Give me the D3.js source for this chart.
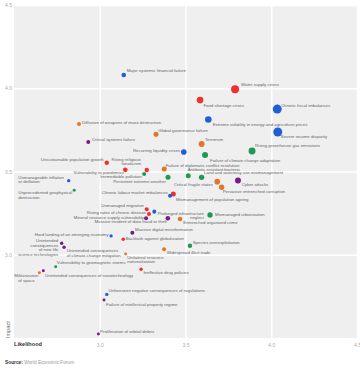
<!DOCTYPE html>
<html><head><meta charset="utf-8">
<script src="https://cdn.jsdelivr.net/npm/d3@7"></script>
<style>html,body{margin:0;padding:0;background:#fff;} svg{display:block;font-family:"Liberation Sans",Arial,sans-serif;}</style>
</head><body><svg id="chart" width="360" height="375"></svg>
<script>
const categories = ["Economic","Environmental","Geopolitical","Societal","Technological"];
const categoryColors = ["#1f60d4","#1f9a55","#e0762a","#f22e2e","#7a1a8a"];

const risks = [
"Major systemic financial failure","Water supply crises","Food shortage crises","Chronic fiscal imbalances",
"Extreme volatility in energy and agriculture prices","Severe income disparity","Rising greenhouse gas emissions",
"Global governance failure","Terrorism","Recurring liquidity crises","Failure of climate change adaptation",
"Diffusion of weapons of mass destruction","Critical systems failure","Unsustainable population growth",
"Unmanageable inflation or deflation","Unprecedented geophysical destruction","Rising religious fanaticism",
"Vulnerability to pandemics","Irremediable pollution","Persistent extreme weather",
"Failure of diplomatic conflict resolution","Antibiotic-resistant bacteria","Land and waterway use mismanagement",
"Critical fragile states","Cyber attacks","Pervasive entrenched corruption","Mismanagement of population ageing",
"Chronic labour market imbalances","Unmanaged migration","Rising rates of chronic disease",
"Prolonged infrastructure neglect","Mineral resource supply vulnerability","Massive incident of data fraud or theft",
"Entrenched organized crime","Mismanaged urbanization","Massive digital misinformation",
"Backlash against globalization","Species overexploitation","Widespread illicit trade",
"Unilateral resource nationalization","Ineffective drug policies","Hard landing of an emerging economy",
"Unintended consequences of new life science technologies","Unintended consequences of climate change mitigation",
"Vulnerability to geomagnetic storms","Militarization of space","Unintended consequences of nanotechnology",
"Unforeseen negative consequences of regulations","Failure of intellectual property regime","Proliferation of orbital debris"
];
// index into categories
const riskCategory = [0,3,3,0,0,0,1,2,2,0,1,2,4,3,0,1,3,3,1,1,2,1,1,2,4,2,3,0,3,3,0,4,4,2,1,4,3,1,2,2,3,0,4,4,1,2,4,0,4,4];
const likelihood = [3.140,3.789,3.585,4.035,3.633,4.038,3.888,3.328,3.594,3.490,3.614,2.879,2.933,3.041,2.819,2.851,3.274,3.149,3.259,3.398,
3.376,3.516,3.594,3.685,3.806,3.711,3.429,3.410,3.274,3.287,3.318,3.270,3.397,3.468,3.643,3.190,3.137,3.526,3.375,3.151,
3.241,3.066,2.778,2.792,2.743,2.648,2.671,3.041,3.025,2.992];
const impact = [4.080,3.994,3.929,3.875,3.812,3.737,3.623,3.723,3.665,3.617,3.599,3.785,3.677,3.553,3.445,3.387,3.509,3.510,3.485,3.465,
3.515,3.474,3.465,3.439,3.446,3.405,3.365,3.355,3.273,3.245,3.259,3.219,3.219,3.215,3.239,3.132,3.093,3.054,3.033,3.005,
2.913,3.113,3.069,3.045,2.928,2.892,2.904,2.762,2.728,2.524];
const weight = [2.6,7.9,5.4,10,5.4,10,6.0,3.1,4.4,3.9,4.4,2.0,2.0,2.4,1.4,1.1,2.4,2.6,2.0,3.1,
3.1,3.1,3.6,3.9,4.4,3.6,3.1,2.0,2.0,2.0,2.0,2.0,2.6,2.6,3.6,2.0,1.6,2.4,2.0,1.1,
1.4,1.4,1.4,1.4,1.1,1.1,1.1,1.4,1.1,1.1];
const xTickValues = [3.0,3.5,4.0,4.5];
const yTickValues = [3.0,3.5,4.0,4.5];

// label layout: [anchor, dx, dy, words per line]
const labelLayout = [
["s",3,-4],["s",6,-5],["s",3.3,5],["s",3.7,-4],["s",4.4,4.5],["s",3,4],["s",3,-5.3],["s",2.3,-3.6],["s",3.3,-4.7],["e",-3.8,-2],
["s",5,5],["s",3,-2],["s",3.4,-3],["e",-3,-3],["s",-50.4,-3.4,[2,2]],["s",-55.9,2.4,[2,1]],["e",-5.7,-11,[2,1]],["e",-1.3,2.9],["e",-2.5,2.7],["e",-2,4.4],
["s",1.5,-4],["s",-0.6,-6.8],["s",2.3,-4.6],["e",-4.3,3.3],["s",3.7,4],["s",1,3.7],["s",2.7,5],["e",-2.3,-3.4],["e",-2.7,-3.6],["e",-3,-1.7],
["e",49.7,1.6,[2,1]],["e",-2,-1],["e",-1,3.4],["s",3.3,3.7],["s",5,0],["s",2.7,-3.4],["s",2.4,-0.3],["s",2.7,-3],["s",2.7,3.4],["s",1.6,3.3,[2,1]],
["s",2.3,3.4],["e",-2.7,-1.7],["e",-3.4,-2.6,[1,1,3,2]],["s",2.7,3.7,[2,4]],["s",1,-4.4],["m",-13,3,[1,2]],["s",1.7,4.3],["s",1.6,-3.5],["s",2,4],["s",1.7,-2.3]
];

const svg = d3.select("#chart");
const L = 14, R = 357, T = 5, B = 338;
const x = d3.scaleLinear().domain([2.5,4.5]).range([L,R]);
const y = d3.scaleLinear().domain([2.5,4.5]).range([B,T]);
const r = d3.scaleSqrt().domain([0,10]).range([0,4.5]);
const color = d3.scaleOrdinal().domain(categories).range(categoryColors);

svg.append("rect").attr("x",L).attr("y",T).attr("width",R-L).attr("height",B-T).attr("fill","#efefef");

const xAxis = svg.append("g").attr("transform",`translate(0,${B})`)
  .call(d3.axisBottom(x).tickValues(xTickValues).tickFormat(d3.format(".1f")).tickSize(-(B-T)).tickPadding(5));
const yAxis = svg.append("g").attr("transform",`translate(${L},0)`)
  .call(d3.axisLeft(y).tickValues(yTickValues).tickFormat(d3.format(".1f")).tickSize(-(R-L)).tickPadding(2));
[xAxis,yAxis].forEach(g=>{
  g.select(".domain").remove();
  g.selectAll(".tick line").attr("stroke","#ffffff").attr("stroke-width",1.5);
  g.selectAll(".tick text").attr("fill","#aaaaaa").style("font-size","5px").style("font-family","Liberation Sans, Arial, sans-serif");
});

const data = risks.map((name,i)=>({name, cat:categories[riskCategory[i]], lx:likelihood[i], iy:impact[i], w:weight[i], lay:labelLayout[i]}));

svg.append("g").selectAll("circle").data(data).join("circle")
  .attr("cx",d=>x(d.lx)).attr("cy",d=>y(d.iy)).attr("r",d=>r(d.w))
  .attr("fill",d=>color(d.cat));

const lh = 4.5;
const lab = svg.append("g").style("font-size","4.35px").attr("fill","#666");
data.forEach(d=>{
  const [a,dx,dy,brk] = d.lay;
  const words = d.name.split(" ");
  let lines = [d.name];
  if (brk) { lines=[]; let k=0; brk.forEach(n=>{lines.push(words.slice(k,k+n).join(" ")); k+=n;}); }
  const t = lab.append("text")
    .attr("text-anchor", a==="s"?"start":a==="e"?"end":"middle");
  const px = x(d.lx)+dx, py = y(d.iy)+dy;
  lines.forEach((ln,j)=>{
    t.append("tspan").attr("x",px).attr("y",py+j*lh).attr("dy","0.35em").text(ln);
  });
});

svg.append("text").attr("x",L).attr("y",344).attr("dy","0.35em")
  .style("font-size","5.6px").style("font-weight","600").attr("fill","#333").text("Likelihood");
svg.append("text").attr("transform",`translate(8.3,${B}) rotate(-90)`).attr("dy","0.35em")
  .style("font-size","5.6px").attr("fill","#666").text("Impact");
const src = svg.append("text").attr("x",5).attr("y",362.5).attr("dy","0.35em").style("font-size","4.8px");
src.append("tspan").attr("fill","#333").style("font-weight","700").text("Source:");
src.append("tspan").attr("fill","#999").text(" World Economic Forum");
</script></body></html>
